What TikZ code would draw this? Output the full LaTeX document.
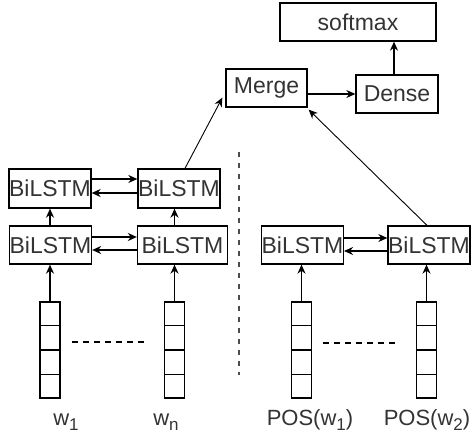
\documentclass[tikz,border=0pt]{standalone}
\usepackage{fontspec}
\setmainfont{Liberation Sans}
\usetikzlibrary{arrows.meta,calc}
\newcommand{\mysub}[1]{\raisebox{-5pt}{\fontsize{17}{20}\selectfont #1}}
\begin{document}
\begin{tikzpicture}[x=1pt,y=-1pt,
  box/.style={draw, line width=1.3pt, inner sep=0pt, minimum width=82pt, minimum height=38pt,
    font=\fontsize{23}{26}\selectfont, text=black!80},
  vec/.style={draw, line width=1.3pt, inner sep=0pt, minimum width=20pt, minimum height=96pt},
  arr/.style={line width=1.4pt, -{Stealth[length=9pt,width=8pt]}},
  thinarr/.style={line width=0.9pt, -{Stealth[length=9pt,width=8pt]}},
  lab/.style={font=\fontsize{22}{26}\selectfont, text=black!80, anchor=base, inner sep=0pt},
  dots/.style={line width=1.1pt, dash pattern=on 6pt off 5pt},
]
\path[use as bounding box] (0,0) rectangle (472,441);

% top
\node[box, minimum width=156pt] (s) at (358,22) {softmax};
\node[box] (d) at (397,94) {Dense};
\node[box, minimum width=81pt] (m) at (266.5,88) {Merge};

% left BiLSTMs
\node[box, minimum height=39pt] (t1) at (50,188.5) {BiLSTM};
\node[box, minimum height=39pt] (t2) at (179,188.5) {BiLSTM};
\node[box] (b1) at (50.5,245) {BiLSTM};
\node[box, minimum width=90pt] (b2) at (182.5,245) {BiLSTM};

% right BiLSTMs
\node[box, minimum width=81pt] (r1) at (302.5,245) {BiLSTM};
\node[box] (r2) at (429,245) {BiLSTM};

% vectors
\foreach \n/\x in {v1/50, v2/174.5, v3/301.5, v4/426.5}{
  \node[vec] (\n) at (\x,350) {};
  \foreach \k in {1,2,3}{
    \draw[line width=1.3pt] ($(\n.north west)!\k/4!(\n.south west)$) -- ($(\n.north east)!\k/4!(\n.south east)$);
  }
}

% labels
\node[lab] (l1) at (66,425) {w\mysub{1}};
\node[lab] (l2) at (166,425) {w\mysub{n}};
\node[lab] (l3) at (310,425) {POS(w\mysub{1})};
\node[lab] (l4) at (427,425) {POS(w\mysub{2})};

% vector to BiLSTM
\draw[arr] (v1.north) -- (v1.north |- b1.south);
\draw[arr] (v2.north) -- (v2.north |- b2.south);
\draw[arr] (v3.north) -- (v3.north |- r1.south);
\draw[arr] (v4.north) -- (v4.north |- r2.south);

% row to row
\draw[arr] (v1.north |- b1.north) -- (v1.north |- t1.south);
\draw[arr] (v2.north |- b2.north) -- (v2.north |- t2.south);

% horizontal pairs
\draw[arr] ([yshift=9.5pt]t1.east) -- ([yshift=9.5pt]t1.east -| t2.west);
\draw[arr] ([yshift=-4.5pt]t2.west) -- ([yshift=-4.5pt]t2.west -| t1.east);
\draw[arr] ([yshift=8pt]b1.east) -- ([yshift=8pt]b1.east -| b2.west);
\draw[arr] ([yshift=-5pt]b2.west) -- ([yshift=-5pt]b2.west -| b1.east);
\draw[arr] ([yshift=7pt]r1.east) -- ([yshift=7pt]r1.east -| r2.west);
\draw[arr] ([yshift=-6pt]r2.west) -- ([yshift=-6pt]r2.west -| r1.east);

% to merge
\draw[thinarr] ([xshift=6pt]t2.north) -- ([xshift=-3pt,yshift=10pt]m.south west);
\draw[thinarr] ([xshift=-2pt]r2.north) -- ([xshift=1pt,yshift=-2pt]m.south east);
\draw[arr] (d.west -| m.east) -- (d.west);
\draw[arr] ([xshift=-3pt]d.north) -- ([xshift=-3pt]d.north |- s.south);

% dashed
\coordinate (da1) at (72,342); \coordinate (da2) at (147,342);
\coordinate (db1) at (323,343); \coordinate (db2) at (399,343);
\draw[dots] (da1) -- (da2);
\draw[dots] (db1) -- (db2);
\coordinate (sep1) at (239,152); \coordinate (sep2) at (239,375);
\draw[line width=1.6pt, dash pattern=on 5pt off 6pt, black!70] (sep1) -- (sep2);
\end{tikzpicture}
\end{document}
